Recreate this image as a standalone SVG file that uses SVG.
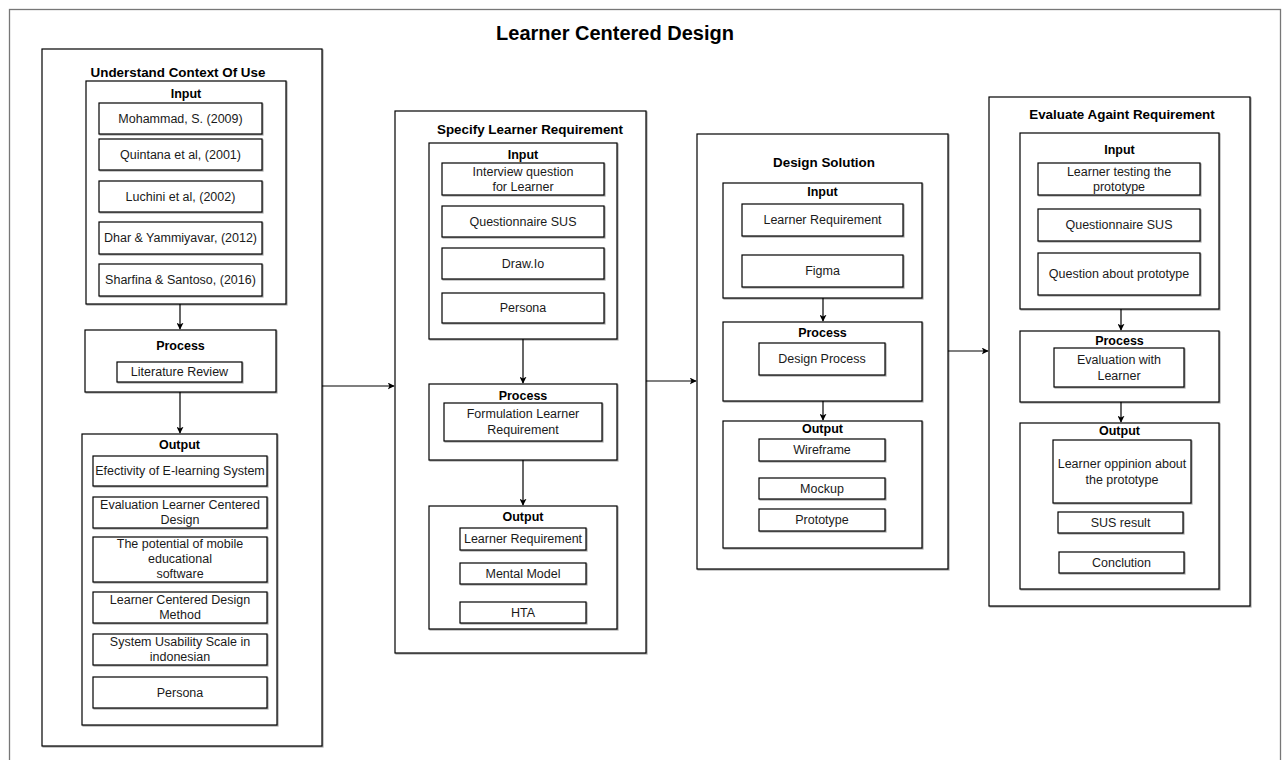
<svg xmlns="http://www.w3.org/2000/svg" width="1285" height="760" viewBox="0 0 1285 760">
  <defs>
    <style>
      .frame { fill: #ffffff; stroke: #777777; stroke-width: 1.3; }
      .box { fill: #ffffff; stroke: #000000; stroke-width: 1.2; filter: url(#shadow); }
      .item { fill: #ffffff; stroke: #000000; stroke-width: 1.2; filter: url(#shadow); }
      .title { font-family: "Liberation Sans", Arial, sans-serif; font-weight: bold; font-size: 20px; fill: #000; text-anchor: middle; dominant-baseline: central; }
      .ctitle { font-family: "Liberation Sans", Arial, sans-serif; font-weight: bold; font-size: 13.4px; fill: #000; text-anchor: middle; dominant-baseline: central; }
      .head { font-family: "Liberation Sans", Arial, sans-serif; font-weight: bold; font-size: 12.5px; fill: #000; text-anchor: middle; dominant-baseline: central; }
      .txt { font-family: "Liberation Sans", Arial, sans-serif; font-size: 12.5px; fill: #1a1a1a; text-anchor: middle; dominant-baseline: central; }
      .conn { fill: none; stroke: #000000; stroke-width: 1.2; }
    </style>
    <filter id="shadow" x="-5%" y="-5%" width="115%" height="115%">
      <feDropShadow dx="1" dy="1" stdDeviation="0.4" flood-color="#000" flood-opacity="0.35"/>
    </filter>
    <marker id="arrow" viewBox="0 0 10 10" refX="9" refY="5" markerWidth="7" markerHeight="7" markerUnits="userSpaceOnUse" orient="auto">
      <path d="M0,0 L10,5 L0,10 L2.5,5 z" fill="#000"/>
    </marker>
  </defs>

  <!-- outer frame -->
  <rect class="frame" x="9.5" y="9.5" width="1271" height="800"/>
  <text class="title" x="615" y="33">Learner Centered Design</text>

  <!-- column 1: Understand Context Of Use -->
  <g id="understand-context">
    <rect class="box" x="42" y="49" width="280" height="697"/>
    <text class="ctitle" x="178" y="72">Understand Context Of Use</text>
  </g>
  <g id="uc-input">
    <rect class="box" x="86" y="81" width="200" height="223"/>
    <text class="head" x="186" y="94">Input</text>
    <rect class="item" x="99" y="103" width="163" height="31"/>
    <text class="txt" x="180.5" y="118.5">Mohammad, S. (2009)</text>
    <rect class="item" x="99" y="139" width="163" height="31"/>
    <text class="txt" x="180.5" y="154.5">Quintana et al, (2001)</text>
    <rect class="item" x="99" y="181" width="163" height="31"/>
    <text class="txt" x="180.5" y="196.5">Luchini et al, (2002)</text>
    <rect class="item" x="99" y="222" width="163" height="32"/>
    <text class="txt" x="180.5" y="238">Dhar &amp; Yammiyavar, (2012)</text>
    <rect class="item" x="99" y="264" width="163" height="32"/>
    <text class="txt" x="180.5" y="280">Sharfina &amp; Santoso, (2016)</text>
  </g>
  <g id="uc-process">
    <rect class="box" x="85" y="330" width="191" height="62"/>
    <text class="head" x="180.5" y="346">Process</text>
    <rect class="item" x="117" y="362" width="125" height="20"/>
    <text class="txt" x="179.5" y="372">Literature Review</text>
  </g>
  <g id="uc-output">
    <rect class="box" x="82" y="434" width="195" height="291"/>
    <text class="head" x="179.5" y="445">Output</text>
    <rect class="item" x="93" y="456" width="174" height="30"/>
    <text class="txt" x="180" y="471">Efectivity of E-learning System</text>
    <rect class="item" x="93" y="497" width="174" height="31"/>
    <text class="txt" x="180" y="505">Evaluation Learner Centered</text>
    <text class="txt" x="180" y="520">Design</text>
    <rect class="item" x="93" y="537" width="174" height="45"/>
    <text class="txt" x="180" y="544">The potential of mobile</text>
    <text class="txt" x="180" y="559">educational</text>
    <text class="txt" x="180" y="574">software</text>
    <rect class="item" x="93" y="592" width="174" height="31"/>
    <text class="txt" x="180" y="600">Learner Centered Design</text>
    <text class="txt" x="180" y="615">Method</text>
    <rect class="item" x="93" y="634" width="174" height="31"/>
    <text class="txt" x="180" y="642">System Usability Scale in</text>
    <text class="txt" x="180" y="657">indonesian</text>
    <rect class="item" x="93" y="677" width="174" height="31"/>
    <text class="txt" x="180" y="692.5">Persona</text>
  </g>

  <!-- column 2: Specify Learner Requirement -->
  <g id="specify-requirement">
    <rect class="box" x="395" y="111" width="251" height="542"/>
    <text class="ctitle" x="530" y="129">Specify Learner Requirement</text>
  </g>
  <g id="sr-input">
    <rect class="box" x="429" y="143" width="188" height="196"/>
    <text class="head" x="523" y="155">Input</text>
    <rect class="item" x="442" y="163" width="162" height="32"/>
    <text class="txt" x="523" y="171.5">Interview question</text>
    <text class="txt" x="523" y="187">for Learner</text>
    <rect class="item" x="442" y="206" width="162" height="31"/>
    <text class="txt" x="523" y="221.5">Questionnaire SUS</text>
    <rect class="item" x="442" y="248" width="162" height="31"/>
    <text class="txt" x="523" y="263.5">Draw.Io</text>
    <rect class="item" x="442" y="293" width="162" height="30"/>
    <text class="txt" x="523" y="308">Persona</text>
  </g>
  <g id="sr-process">
    <rect class="box" x="429" y="384" width="188" height="76"/>
    <text class="head" x="523" y="396">Process</text>
    <rect class="item" x="444" y="403" width="158" height="38"/>
    <text class="txt" x="523" y="414">Formulation Learner</text>
    <text class="txt" x="523" y="430">Requirement</text>
  </g>
  <g id="sr-output">
    <rect class="box" x="429" y="506" width="188" height="123"/>
    <text class="head" x="523" y="517">Output</text>
    <rect class="item" x="460" y="528" width="126" height="22"/>
    <text class="txt" x="523" y="539">Learner Requirement</text>
    <rect class="item" x="460" y="563" width="126" height="21"/>
    <text class="txt" x="523" y="573.5">Mental Model</text>
    <rect class="item" x="460" y="602" width="126" height="21"/>
    <text class="txt" x="523" y="612.5">HTA</text>
  </g>

  <!-- column 3: Design Solution -->
  <g id="design-solution">
    <rect class="box" x="697" y="134" width="251" height="435"/>
    <text class="ctitle" x="824" y="162">Design Solution</text>
  </g>
  <g id="ds-input">
    <rect class="box" x="723" y="183" width="199" height="115"/>
    <text class="head" x="822.5" y="192">Input</text>
    <rect class="item" x="742" y="204" width="161" height="32"/>
    <text class="txt" x="822.5" y="219.5">Learner Requirement</text>
    <rect class="item" x="742" y="255" width="161" height="32"/>
    <text class="txt" x="822.5" y="270.5">Figma</text>
  </g>
  <g id="ds-process">
    <rect class="box" x="723" y="322" width="199" height="79"/>
    <text class="head" x="822.5" y="333">Process</text>
    <rect class="item" x="759" y="343" width="126" height="32"/>
    <text class="txt" x="822" y="358.5">Design Process</text>
  </g>
  <g id="ds-output">
    <rect class="box" x="723" y="421" width="199" height="127"/>
    <text class="head" x="822.5" y="429">Output</text>
    <rect class="item" x="759" y="439" width="126" height="22"/>
    <text class="txt" x="822" y="450">Wireframe</text>
    <rect class="item" x="759" y="478" width="126" height="21"/>
    <text class="txt" x="822" y="488.5">Mockup</text>
    <rect class="item" x="759" y="509" width="126" height="22"/>
    <text class="txt" x="822" y="519.5">Prototype</text>
  </g>

  <!-- column 4: Evaluate Againt Requirement -->
  <g id="evaluate-requirement">
    <rect class="box" x="989" y="97" width="261" height="509"/>
    <text class="ctitle" x="1122" y="114">Evaluate Againt Requirement</text>
  </g>
  <g id="er-input">
    <rect class="box" x="1020" y="133" width="199" height="176"/>
    <text class="head" x="1119.5" y="150">Input</text>
    <rect class="item" x="1038" y="163" width="162" height="32"/>
    <text class="txt" x="1119" y="171.5">Learner testing the</text>
    <text class="txt" x="1119" y="187">prototype</text>
    <rect class="item" x="1038" y="209" width="162" height="32"/>
    <text class="txt" x="1119" y="224.5">Questionnaire SUS</text>
    <rect class="item" x="1038" y="253" width="162" height="42"/>
    <text class="txt" x="1119" y="274">Question about prototype</text>
  </g>
  <g id="er-process">
    <rect class="box" x="1020" y="331" width="199" height="71"/>
    <text class="head" x="1119.5" y="341">Process</text>
    <rect class="item" x="1054" y="348" width="130" height="39"/>
    <text class="txt" x="1119" y="359.5">Evaluation with</text>
    <text class="txt" x="1119" y="376">Learner</text>
  </g>
  <g id="er-output">
    <rect class="box" x="1020" y="423" width="199" height="166"/>
    <text class="head" x="1119.5" y="431">Output</text>
    <rect class="item" x="1053" y="440" width="138" height="63"/>
    <text class="txt" x="1122" y="464">Learner oppinion about</text>
    <text class="txt" x="1122" y="480">the prototype</text>
    <rect class="item" x="1058" y="512" width="125" height="21"/>
    <text class="txt" x="1120.5" y="522.5">SUS result</text>
    <rect class="item" x="1059" y="552" width="125" height="21"/>
    <text class="txt" x="1121.5" y="562.5">Conclution</text>
  </g>

  <!-- connectors -->
  <g id="connectors">
    <line class="conn" x1="180" y1="304" x2="180" y2="329" marker-end="url(#arrow)"/>
    <line class="conn" x1="180" y1="392" x2="180" y2="433" marker-end="url(#arrow)"/>
    <line class="conn" x1="322" y1="386" x2="394" y2="386" marker-end="url(#arrow)"/>
    <line class="conn" x1="523" y1="339" x2="523" y2="383" marker-end="url(#arrow)"/>
    <line class="conn" x1="523" y1="460" x2="523" y2="505" marker-end="url(#arrow)"/>
    <line class="conn" x1="646" y1="381" x2="696" y2="381" marker-end="url(#arrow)"/>
    <line class="conn" x1="823" y1="298" x2="823" y2="321" marker-end="url(#arrow)"/>
    <line class="conn" x1="823" y1="401" x2="823" y2="420" marker-end="url(#arrow)"/>
    <line class="conn" x1="948" y1="351" x2="988" y2="351" marker-end="url(#arrow)"/>
    <line class="conn" x1="1121" y1="309" x2="1121" y2="330" marker-end="url(#arrow)"/>
    <line class="conn" x1="1121" y1="402" x2="1121" y2="422" marker-end="url(#arrow)"/>
  </g>
</svg>
